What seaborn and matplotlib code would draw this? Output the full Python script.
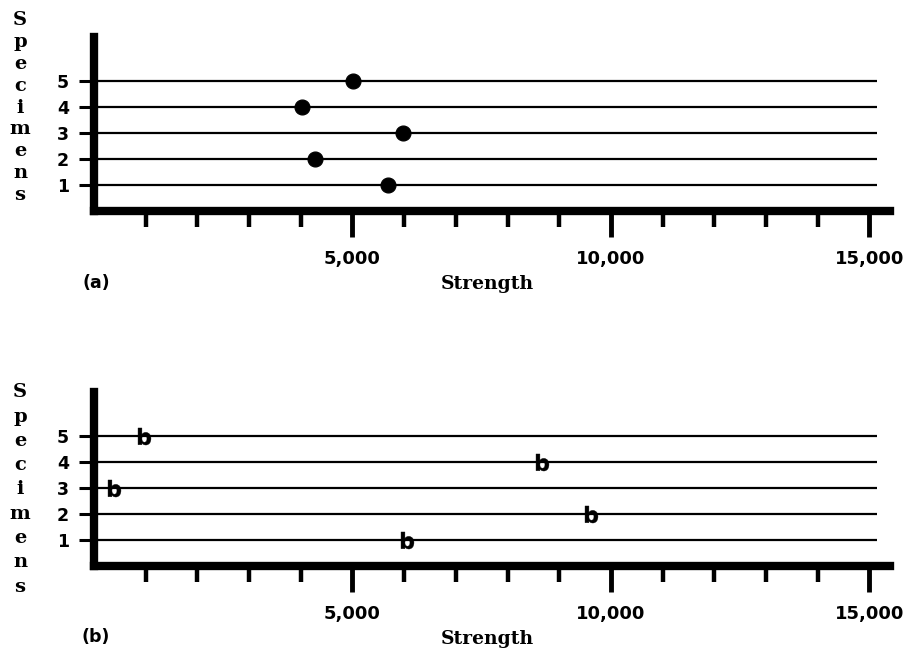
import seaborn as sns
import matplotlib.pyplot as plt
import pandas as pd
from matplotlib.ticker import FixedLocator

# datos
specimens = [1, 2, 3, 4, 5]
strength_a = [5690, 4270, 5970, 4030, 5010]
strength_b = [6050, 9610, 390, 8660, 970]
major_ticks = [5000, 10000, 15000]
major_labels = ["5,000", "10,000", "15,000"]
minor_ticks = [1000, 2000, 3000, 4000, 6000, 7000, 8000, 9000,
               11000, 12000, 13000, 14000]
panel_labels = ["(a)", "(b)"]

sns.set_style("white")
plt.rcParams['font.family'] = ['DejaVu Sans']
plt.rcParams['text.color'] = 'black'
plt.rcParams['xtick.color'] = 'black'
plt.rcParams['ytick.color'] = 'black'
plt.rcParams['axes.labelcolor'] = 'black'

fig = plt.figure(figsize=(9.04, 6.57), dpi=100)
ax_a = fig.add_axes([0.104, 0.6788, 0.8805, 0.2648])
ax_b = fig.add_axes([0.104, 0.1385, 0.8805, 0.2648])

df_a = pd.DataFrame({"strength": strength_a, "specimen": specimens})
df_b = pd.DataFrame({"strength": strength_b, "specimen": specimens})

sns.scatterplot(data=df_a, x="strength", y="specimen", ax=ax_a,
                s=115, color="black", edgecolor="black", zorder=3)
sns.scatterplot(data=df_b, x="strength", y="specimen", ax=ax_b,
                marker=r"$\mathbf{b}$", s=150, color="black",
                edgecolor="black", linewidth=0.3, zorder=3)


def estilo(ax, spacing, ycenter):
    ax.hlines(specimens, 0, 15150, color="black", lw=1.6, zorder=1)
    ax.set_xlim(0, 15400)
    ax.set_ylim(0, 6.7)
    for s in ["top", "right"]:
        ax.spines[s].set_visible(False)
    for s in ["left", "bottom"]:
        ax.spines[s].set_linewidth(6)
        ax.spines[s].set_color("black")
        ax.spines[s].set_capstyle("projecting")
    ax.set_xticks(major_ticks)
    ax.set_xticklabels(major_labels, fontsize=13, fontweight="bold")
    ax.xaxis.set_minor_locator(FixedLocator(minor_ticks))
    ax.tick_params(axis="x", which="major", direction="out", length=19,
                   width=3.5, color="black", pad=9, bottom=True)
    ax.tick_params(axis="x", which="minor", direction="out", length=11.5,
                   width=3.2, color="black", bottom=True)
    ax.set_yticks(specimens)
    ax.set_yticklabels([str(s) for s in specimens], fontsize=12.5,
                       fontweight="bold")
    ax.tick_params(axis="y", direction="out", length=11, width=2.2,
                   color="black", pad=7, left=True)
    ax.set_xlabel("Strength", fontsize=13.5, fontweight="bold",
                  family="DejaVu Serif")
    ax.xaxis.set_label_coords(0.494, -0.37)
    ax.set_ylabel("\n".join("Specimens"), rotation=0, fontsize=14,
                  fontweight="heavy", family="DejaVu Serif",
                  linespacing=spacing, ha="center", va="center")
    ax.yaxis.set_label_coords(-0.093, ycenter)


estilo(ax_a, 1.28, 0.595)
estilo(ax_b, 1.45, 0.44)

fig.text(0.106, 0.569, panel_labels[0], fontsize=12.5, fontweight="bold",
         ha="center", va="center")
fig.text(0.106, 0.030, panel_labels[1], fontsize=12.5, fontweight="bold",
         ha="center", va="center")

plt.savefig("out.png", dpi=100)
